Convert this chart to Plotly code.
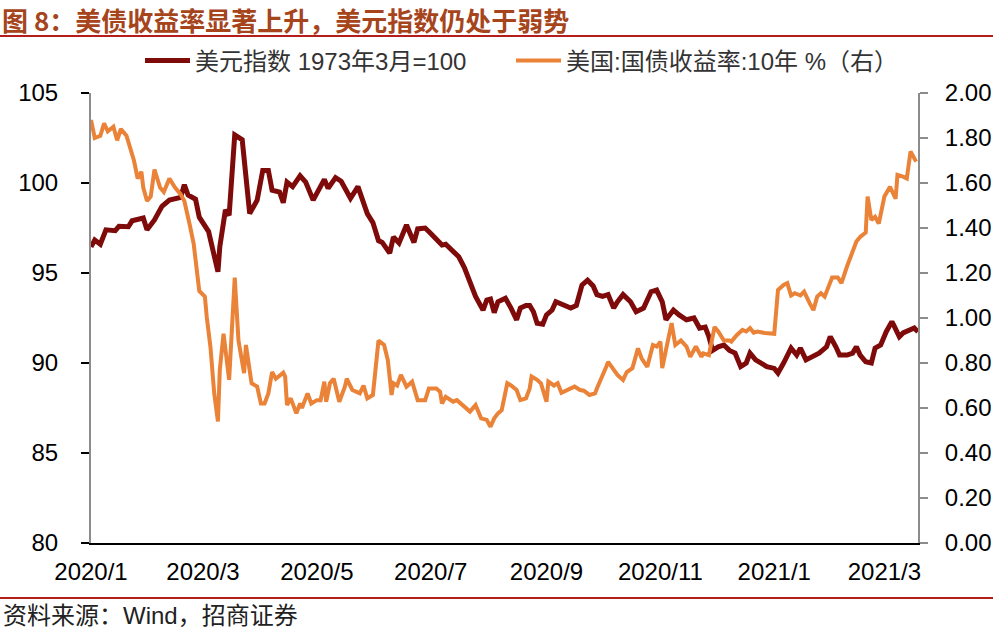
import plotly.graph_objects as go

# ---------------- data ----------------
dxy_dates = [
    "2020-01-01","2020-01-03","2020-01-06","2020-01-09","2020-01-14","2020-01-16","2020-01-21","2020-01-23",
    "2020-01-29","2020-01-31","2020-02-04","2020-02-08","2020-02-12","2020-02-18","2020-02-20","2020-02-22",
    "2020-02-26","2020-02-28","2020-03-04","2020-03-06","2020-03-09","2020-03-10","2020-03-13","2020-03-15",
    "2020-03-18","2020-03-22","2020-03-26","2020-03-30","2020-04-02","2020-04-05","2020-04-07","2020-04-11",
    "2020-04-13","2020-04-15","2020-04-18","2020-04-22","2020-04-25","2020-04-29","2020-05-01","2020-05-05",
    "2020-05-07","2020-05-11","2020-05-14","2020-05-19","2020-05-23","2020-05-26","2020-05-28","2020-05-31",
    "2020-06-03","2020-06-05","2020-06-09","2020-06-11","2020-06-14","2020-06-18","2020-06-22","2020-06-24",
    "2020-06-28","2020-07-01","2020-07-05","2020-07-07","2020-07-09","2020-07-14","2020-07-16","2020-07-19",
    "2020-07-23","2020-07-25","2020-07-29","2020-07-31","2020-08-02","2020-08-04","2020-08-06","2020-08-10",
    "2020-08-13","2020-08-16","2020-08-18","2020-08-21","2020-08-23","2020-08-25","2020-08-27","2020-08-30",
    "2020-09-01","2020-09-04","2020-09-06","2020-09-10","2020-09-14","2020-09-17","2020-09-20","2020-09-23",
    "2020-09-26","2020-09-28","2020-10-01","2020-10-04","2020-10-07","2020-10-09","2020-10-12","2020-10-16",
    "2020-10-19","2020-10-23","2020-10-27","2020-10-30","2020-11-02","2020-11-04","2020-11-08","2020-11-11",
    "2020-11-15","2020-11-19","2020-11-22","2020-11-25","2020-11-27","2020-11-29","2020-12-02","2020-12-05",
    "2020-12-08","2020-12-11","2020-12-14","2020-12-17","2020-12-19","2020-12-22","2020-12-25","2020-12-28",
    "2021-01-01","2021-01-03","2021-01-06","2021-01-08","2021-01-10","2021-01-13","2021-01-15","2021-01-18",
    "2021-01-22","2021-01-25","2021-01-29","2021-01-31","2021-02-03","2021-02-05","2021-02-09","2021-02-12",
    "2021-02-14","2021-02-16","2021-02-19","2021-02-22","2021-02-24","2021-02-27","2021-03-02","2021-03-05",
    "2021-03-06","2021-03-09","2021-03-11","2021-03-14","2021-03-17","2021-03-19",
]
dxy_values = [
    96.45,96.83,96.6,97.4,97.35,97.6,97.57,97.9,
    98.05,97.4,97.95,98.7,99.05,99.2,99.9,99.33,
    99.1,98.1,97.3,96.3,95.07,96.46,98.5,98.2,
    102.67,102.4,98.3,99.05,100.7,100.7,99.6,99.5,
    98.9,100.05,99.8,100.4,100.05,99.05,99.4,100.2,
    99.7,100.3,100.1,99.15,99.8,98.96,98.3,97.8,
    96.8,96.7,96.1,97.0,96.67,97.67,96.7,97.45,
    97.5,97.2,96.8,96.55,96.6,96.1,95.9,95.3,
    94.24,93.7,92.94,93.5,93.55,92.8,93.4,93.6,
    93.05,92.4,93.05,93.2,93.2,92.85,92.2,92.15,
    92.67,92.94,93.4,93.2,93.05,93.2,94.33,94.6,
    94.28,93.8,93.7,93.8,93.05,93.4,93.8,93.4,
    92.85,93.05,93.96,94.05,93.4,92.4,92.94,92.67,
    92.4,92.5,91.94,92.0,91.46,90.7,90.9,91.0,
    90.7,90.55,89.8,90.0,90.55,90.17,90.0,89.8,
    89.7,89.44,90.0,90.35,90.83,90.44,90.83,90.17,
    90.35,90.55,90.9,91.46,90.9,90.44,90.44,90.55,
    90.9,90.44,90.07,90.0,90.83,91.0,91.74,92.3,
    92.1,91.46,91.67,91.83,91.94,91.74,
]

ust_dates = [
    "2020-01-01","2020-01-03","2020-01-06","2020-01-08","2020-01-10","2020-01-13","2020-01-15","2020-01-17",
    "2020-01-20","2020-01-22","2020-01-24","2020-01-26","2020-01-28","2020-01-29","2020-01-31","2020-02-02",
    "2020-02-04","2020-02-07","2020-02-09","2020-02-12","2020-02-15","2020-02-18","2020-02-20","2020-02-23",
    "2020-02-25","2020-02-28","2020-03-02","2020-03-03","2020-03-05","2020-03-07","2020-03-09","2020-03-10",
    "2020-03-12","2020-03-15","2020-03-18","2020-03-20","2020-03-23","2020-03-24","2020-03-27","2020-03-30",
    "2020-04-01","2020-04-03","2020-04-05","2020-04-07","2020-04-09","2020-04-13","2020-04-14","2020-04-15",
    "2020-04-17","2020-04-20","2020-04-22","2020-04-23","2020-04-26","2020-04-28","2020-05-01","2020-05-03",
    "2020-05-05","2020-05-06","2020-05-08","2020-05-10","2020-05-13","2020-05-16","2020-05-17","2020-05-20",
    "2020-05-24","2020-05-26","2020-05-28","2020-05-31","2020-06-03","2020-06-06","2020-06-08","2020-06-10",
    "2020-06-11","2020-06-13","2020-06-15","2020-06-18","2020-06-21","2020-06-24","2020-06-28","2020-06-30",
    "2020-07-04","2020-07-06","2020-07-07","2020-07-09","2020-07-13","2020-07-15","2020-07-18","2020-07-22",
    "2020-07-25","2020-07-28","2020-07-31","2020-08-02","2020-08-04","2020-08-06","2020-08-08","2020-08-11",
    "2020-08-13","2020-08-16","2020-08-18","2020-08-21","2020-08-23","2020-08-24","2020-08-27","2020-08-29",
    "2020-09-01","2020-09-02","2020-09-05","2020-09-07","2020-09-09","2020-09-12","2020-09-16","2020-09-19",
    "2020-09-21","2020-09-24","2020-09-27","2020-09-28","2020-10-01","2020-10-03","2020-10-04","2020-10-06",
    "2020-10-09","2020-10-12","2020-10-14","2020-10-17","2020-10-20","2020-10-22","2020-10-25","2020-10-28",
    "2020-10-30","2020-11-01","2020-11-02","2020-11-04","2020-11-07","2020-11-09","2020-11-12","2020-11-15",
    "2020-11-17","2020-11-20","2020-11-23","2020-11-24","2020-11-27","2020-11-30","2020-12-02","2020-12-05",
    "2020-12-08","2020-12-09","2020-12-12","2020-12-15","2020-12-17","2020-12-19","2020-12-21","2020-12-23",
    "2020-12-27","2021-01-01","2021-01-03","2021-01-06","2021-01-08","2021-01-10","2021-01-12","2021-01-15",
    "2021-01-17","2021-01-20","2021-01-22","2021-01-24","2021-01-26","2021-01-28","2021-02-01","2021-02-04",
    "2021-02-06","2021-02-09","2021-02-11","2021-02-14","2021-02-16","2021-02-19","2021-02-20","2021-02-22",
    "2021-02-24","2021-02-26","2021-03-01","2021-03-04","2021-03-07","2021-03-08","2021-03-11","2021-03-13",
    "2021-03-15","2021-03-18",
]
ust_values = [
    1.88,1.80,1.81,1.865,1.83,1.85,1.79,1.84,
    1.81,1.76,1.70,1.62,1.65,1.58,1.52,1.54,
    1.66,1.58,1.56,1.62,1.58,1.55,1.52,1.41,
    1.33,1.12,1.095,1.005,0.87,0.665,0.54,0.77,
    0.93,0.725,1.18,0.90,0.755,0.88,0.71,0.695,
    0.62,0.62,0.665,0.76,0.73,0.757,0.74,0.613,
    0.643,0.576,0.62,0.60,0.665,0.62,0.635,0.635,
    0.717,0.628,0.71,0.73,0.628,0.695,0.73,0.68,
    0.665,0.70,0.643,0.658,0.90,0.88,0.813,0.658,
    0.71,0.70,0.747,0.695,0.717,0.635,0.635,0.687,
    0.687,0.672,0.62,0.65,0.628,0.635,0.613,0.584,
    0.613,0.554,0.547,0.517,0.554,0.576,0.59,0.71,
    0.70,0.68,0.635,0.643,0.687,0.74,0.725,0.71,
    0.628,0.717,0.70,0.71,0.668,0.68,0.695,0.68,
    0.677,0.658,0.665,0.687,0.74,0.783,0.805,0.783,
    0.747,0.725,0.76,0.777,0.865,0.82,0.783,0.88,
    0.873,0.895,0.777,0.858,0.977,0.88,0.90,0.873,
    0.828,0.873,0.828,0.843,0.835,0.96,0.94,0.90,
    0.90,0.895,0.925,0.947,0.94,0.955,0.935,0.94,
    0.933,0.93,1.125,1.147,1.155,1.10,1.11,1.10,
    1.117,1.065,1.035,1.095,1.11,1.095,1.18,1.18,
    1.155,1.23,1.27,1.34,1.36,1.38,1.54,1.436,
    1.45,1.42,1.54,1.583,1.53,1.636,1.628,1.62,
    1.74,1.695,
]

x_tick_vals = ["2020-01-01","2020-03-01","2020-05-01","2020-07-01","2020-09-01",
               "2020-11-01","2021-01-01","2021-03-01"]
x_tick_text = ["2020/1","2020/3","2020/5","2020/7","2020/9","2020/11","2021/1","2021/3"]

name_dxy = "美元指数 1973年3月=100"
name_ust = "美国:国债收益率:10年 %（右）"
title_text = "图 8：美债收益率显著上升，美元指数仍处于弱势"
source_text = "资料来源：Wind，招商证券"

# ---------------- figure ----------------
FONT = "Liberation Sans, Arial, Noto Sans CJK SC, sans-serif"
DARK_RED = "#7E0A0A"
ORANGE = "#EA8237"
RULE_RED = "#B51D1D"

fig = go.Figure()
fig.add_trace(go.Scatter(x=dxy_dates, y=dxy_values, name=name_dxy, mode="lines",
                         line=dict(color=DARK_RED, width=5), yaxis="y"))
fig.add_trace(go.Scatter(x=ust_dates, y=ust_values, name=name_ust, mode="lines",
                         line=dict(color=ORANGE, width=4), yaxis="y2"))

W, H = 993, 631
L, R, T, B = 91, 75, 93, 88
pw, ph = W - L - R, H - T - B

def px_x(p):
    return (p - L) / pw

def px_y(p):
    return (H - B - p) / ph

fig.update_layout(
    width=W, height=H,
    margin=dict(l=L, r=R, t=T, b=B, autoexpand=False),
    paper_bgcolor="white", plot_bgcolor="white",
    font=dict(family=FONT, size=24, color="#000000"),
    showlegend=True,
    legend=dict(orientation="h", x=px_x(140), xanchor="left", y=px_y(61), yanchor="middle",
                font=dict(size=24, color="#333333"), bgcolor="rgba(0,0,0,0)",
                entrywidth=311, entrywidthmode="pixels", itemwidth=45),
    xaxis=dict(type="date", range=["2020-01-01", "2021-03-19"], automargin=False,
               tickvals=x_tick_vals, ticktext=x_tick_text, ticks="",
               showline=True, linecolor="#000000", linewidth=2,
               showgrid=False, zeroline=False, ticklabelstandoff=6,
               tickfont=dict(size=24, color="#000000")),
    yaxis=dict(range=[80, 105], dtick=5, tick0=80, ticks="outside", ticklen=8, automargin=False,
               tickcolor="#000000", tickwidth=1.5,
               showline=True, linecolor="#8c8c8c", linewidth=2,
               showgrid=False, zeroline=False, ticklabelstandoff=18,
               tickfont=dict(size=24, color="#000000")),
    yaxis2=dict(range=[0, 2], dtick=0.2, tick0=0, tickformat=".2f", overlaying="y", automargin=False,
                side="right", ticks="outside", ticklen=8, tickcolor="#8c8c8c", tickwidth=1.5,
                showline=True, linecolor="#8c8c8c", linewidth=2,
                showgrid=False, zeroline=False, ticklabelstandoff=12,
                tickfont=dict(size=24, color="#000000")),
    shapes=[
        dict(type="line", xref="paper", yref="paper", x0=px_x(0), x1=px_x(W),
             y0=px_y(36), y1=px_y(36), line=dict(color=RULE_RED, width=2)),
        dict(type="line", xref="paper", yref="paper", x0=px_x(0), x1=px_x(W),
             y0=px_y(598), y1=px_y(598), line=dict(color=RULE_RED, width=2)),
    ],
    annotations=[
        dict(text="<b>" + title_text + "</b>", xref="paper", yref="paper",
             x=px_x(1), y=px_y(0), xanchor="left", yanchor="top", showarrow=False,
             borderpad=0,
             font=dict(family="Noto Sans CJK SC, sans-serif", size=26, color="#A6441C")),
        dict(text=source_text, xref="paper", yref="paper",
             x=px_x(1), y=px_y(615), xanchor="left", yanchor="middle", showarrow=False,
             font=dict(family=FONT, size=24, color="#222222")),
    ],
)

fig.write_html("out.html")
